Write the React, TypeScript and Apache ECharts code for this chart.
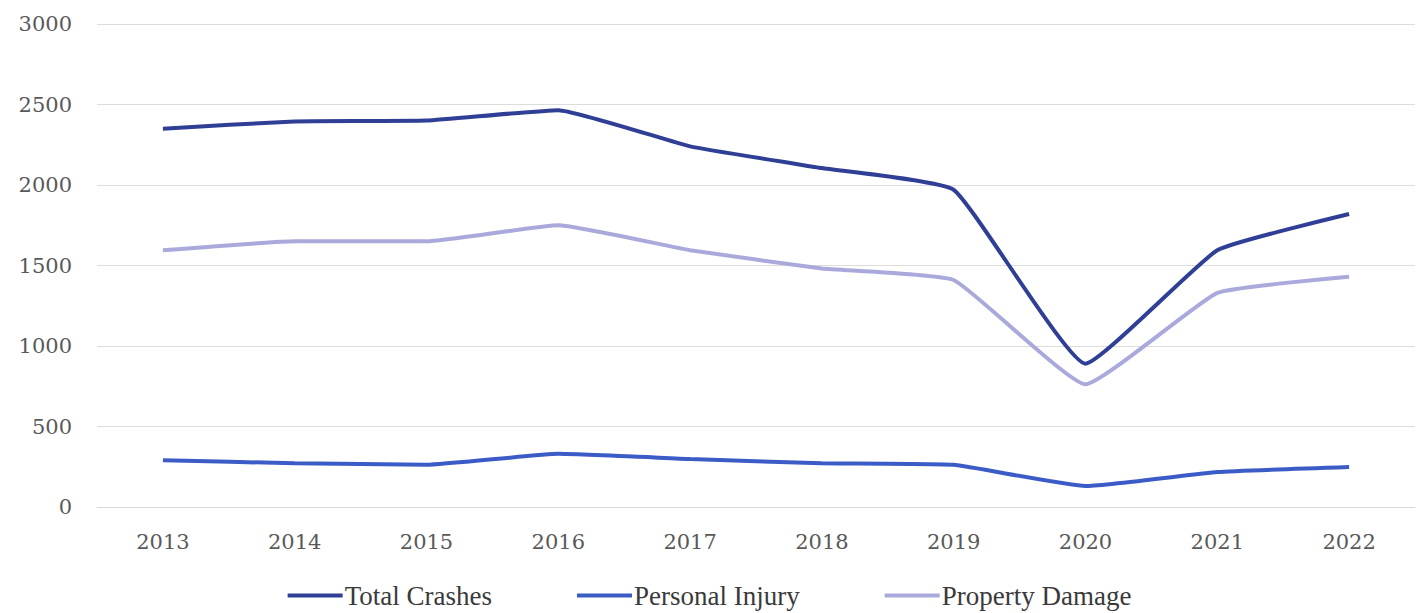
import React, { useEffect, useRef } from "react";
import * as echarts from "echarts";

const years = ["2013", "2014", "2015", "2016", "2017", "2018", "2019", "2020", "2021", "2022"];
const totalCrashes = [2350, 2395, 2400, 2465, 2240, 2105, 1970, 890, 1595, 1820];
const personalInjury = [290, 272, 262, 330, 298, 272, 262, 130, 217, 248];
const propertyDamage = [1595, 1650, 1650, 1750, 1595, 1482, 1410, 762, 1330, 1430];
const yTicks = { min: 0, max: 3000, interval: 500 };

const AXIS_FONT = "'DejaVu Serif', 'Liberation Serif', serif";
const LEGEND_FONT = "'Liberation Serif', 'DejaVu Serif', serif";

export default function App() {
  const ref = useRef<HTMLDivElement>(null);
  useEffect(() => {
    if (!ref.current) return;
    const chart = echarts.init(ref.current, undefined, { renderer: "svg" });
    chart.setOption({
      animation: false,
      backgroundColor: "#ffffff",
      grid: { left: 97, right: 4, top: 24, bottom: 106, containLabel: false },
      legend: {
        top: 577,
        left: "center",
        itemWidth: 55,
        itemHeight: 4,
        itemGap: 85,
        icon: "rect",
        textStyle: { fontFamily: LEGEND_FONT, fontSize: 27, color: "#3a3a3a", padding: [0, 0, 0, -3] },
        data: ["Total Crashes", "Personal Injury", "Property Damage"],
      },
      xAxis: {
        type: "category",
        data: years,
        boundaryGap: true,
        axisLine: { show: true, lineStyle: { color: "#d9d9d9", width: 1 } },
        axisTick: { show: false },
        axisLabel: { fontFamily: AXIS_FONT, fontSize: 21, color: "#595959", margin: 24 },
      },
      yAxis: {
        type: "value",
        min: yTicks.min,
        max: yTicks.max,
        interval: yTicks.interval,
        axisLine: { show: false },
        axisTick: { show: false },
        splitLine: { lineStyle: { color: "#dcdcdc", width: 1 } },
        axisLabel: {
          fontFamily: AXIS_FONT,
          fontSize: 21,
          color: "#595959",
          margin: 25,
          formatter: (v: number) => String(v),
        },
      },
      series: [
        {
          name: "Total Crashes",
          type: "line",
          data: totalCrashes,
          smooth: 0.12,
          symbol: "none",
          lineStyle: { width: 4, color: "#2f3f95" },
          itemStyle: { color: "#2f3f95" },
        },
        {
          name: "Personal Injury",
          type: "line",
          data: personalInjury,
          smooth: 0.12,
          symbol: "none",
          lineStyle: { width: 4, color: "#3b5cc6" },
          itemStyle: { color: "#3b5cc6" },
        },
        {
          name: "Property Damage",
          type: "line",
          data: propertyDamage,
          smooth: 0.12,
          symbol: "none",
          lineStyle: { width: 4, color: "#a9a9dc" },
          itemStyle: { color: "#a9a9dc" },
        },
      ],
    });
    return () => chart.dispose();
  }, []);
  return (
    <div
      ref={ref}
      style={{ position: "fixed", left: 0, top: 0, width: 1419, height: 613 }}
    />
  );
}
